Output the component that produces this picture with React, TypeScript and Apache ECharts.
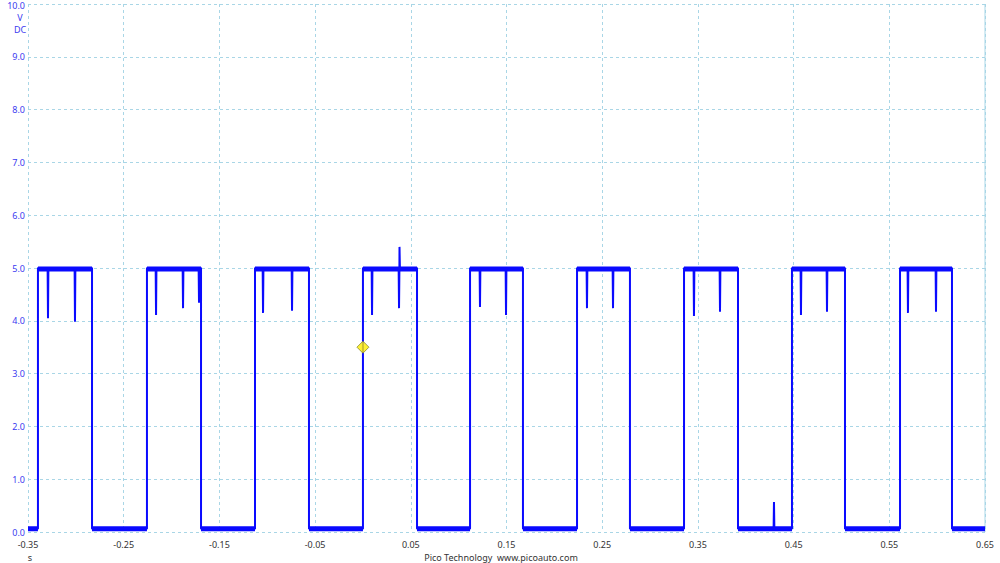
import React, { useEffect, useRef } from "react";
import * as echarts from "echarts";

// Edge times (s)
const riseTimes = [-0.3396, -0.2257, -0.1128, 0.0, 0.1119, 0.2237, 0.3355, 0.4483, 0.5612];
const fallTimes = [-0.2831, -0.1692, -0.0564, 0.0565, 0.1672, 0.279, 0.3919, 0.5037, 0.6155];
const highLevel = 5.0;
const lowLevel = 0.06;
// Glitches on the high plateaus: [time, value]
const highGlitches: [number, number][] = [
  [-0.3291, 4.05], [-0.3009, 3.98],
  [-0.2162, 4.11], [-0.188, 4.24], [-0.1713, 4.34],
  [-0.1044, 4.15], [-0.0741, 4.19],
  [0.0095, 4.11], [0.0377, 4.24], [0.0382, 5.4],
  [0.1223, 4.26], [0.1495, 4.11],
  [0.2341, 4.24], [0.2613, 4.24],
  [0.3459, 4.09], [0.3731, 4.17],
  [0.4577, 4.11], [0.4849, 4.17],
  [0.5695, 4.15], [0.5988, 4.17],
];
// Glitches on the low level
const lowGlitches: [number, number][] = [[0.4295, 0.57]];
const xMin = -0.35;
const xMax = 0.65;
const yMax = 10;
const triggerPoint: [number, number] = [0.0, 3.5];

function buildTrace(): [number, number][] {
  const pts: [number, number][] = [[xMin, lowLevel]];
  const dt = 0.0004;
  riseTimes.forEach((r, i) => {
    const f = fallTimes[i];
    const prevF = i === 0 ? xMin : fallTimes[i - 1];
    lowGlitches
      .filter(([t]) => t > prevF && t < r)
      .forEach(([t, v]) => {
        pts.push([t - dt, lowLevel], [t, v], [t + dt, lowLevel]);
      });
    pts.push([r, lowLevel], [r, highLevel]);
    highGlitches
      .filter(([t]) => t > r && t < f)
      .forEach(([t, v]) => {
        pts.push([t - dt, highLevel], [t, v], [t + dt, highLevel]);
      });
    pts.push([f, highLevel], [f, lowLevel]);
  });
  pts.push([xMax, lowLevel]);
  return pts;
}

function buildBand(): any[] {
  const pts: any[] = [];
  let prev = xMin;
  riseTimes.forEach((r, i) => {
    pts.push([prev, lowLevel], [r, lowLevel], [r, null]);
    pts.push([r, highLevel - 0.02], [fallTimes[i], highLevel - 0.02], [fallTimes[i], null]);
    prev = fallTimes[i];
  });
  pts.push([prev, lowLevel], [xMax, lowLevel]);
  return pts;
}

export default function App() {
  const ref = useRef<HTMLDivElement>(null);
  useEffect(() => {
    if (!ref.current) return;
    const chart = echarts.init(ref.current, null, { renderer: "svg" });
    const gridColor = "#a9d6e6";
    const font = "Noto Sans";
    chart.setOption({
      animation: false,
      backgroundColor: "#ffffff",
      grid: { left: 28, right: 15, top: 4, bottom: 31, containLabel: false },
      xAxis: {
        type: "value",
        min: xMin,
        max: xMax,
        interval: 0.1,
        axisLine: { show: false },
        axisTick: { show: false },
        splitLine: { show: true, lineStyle: { color: gridColor, type: [3, 3], width: 1 } },
        axisLabel: {
          color: "#333333",
          fontFamily: font,
          fontSize: 9,
          margin: 8,
          showMinLabel: true,
          showMaxLabel: true,
          formatter: (v: number) => v.toFixed(2),
        },
      },
      yAxis: {
        type: "value",
        min: 0,
        max: yMax,
        interval: 1,
        axisLine: { show: false },
        axisTick: { show: false },
        splitLine: { show: true, lineStyle: { color: gridColor, type: [3, 3], width: 1 } },
        axisLabel: {
          color: "#3a3af0",
          fontFamily: font,
          fontSize: 9,
          margin: 3,
          showMaxLabel: false,
          formatter: (v: number) => v.toFixed(1),
        },
      },
      graphic: [
        { type: "rect", shape: { x: 985, y: 4, width: 0, height: 528 }, style: { stroke: gridColor, lineDash: [3, 3], lineWidth: 1, fill: "none" } },
        { type: "text", x: 25, y: 1, style: { text: yMax.toFixed(1), fill: "#3a3af0", font: `9px ${font}`, align: "right", verticalAlign: "top" } },
        { type: "text", x: 20, y: 17, style: { text: "V", fill: "#3a3af0", font: `9px ${font}`, align: "center", verticalAlign: "middle" } },
        { type: "text", x: 20, y: 29, style: { text: "DC", fill: "#3a3af0", font: `9px ${font}`, align: "center", verticalAlign: "middle" } },
        { type: "text", x: 30, y: 557, style: { text: "s", fill: "#333333", font: `9px ${font}`, align: "center", verticalAlign: "middle" } },
        { type: "text", x: 501, y: 557, style: { text: "Pico Technology  www.picoauto.com", fill: "#333333", font: `9px ${font}`, align: "center", verticalAlign: "middle" } },
      ],
      series: [
        {
          type: "line",
          data: buildBand(),
          symbol: "none",
          connectNulls: false,
          lineStyle: { color: "#0a0aff", width: 5 },
          silent: true,
          z: 2,
        },
        {
          type: "line",
          data: buildTrace(),
          symbol: "none",
          lineStyle: { color: "#0a0aff", width: 2 },
          silent: true,
          z: 3,
        },
        {
          type: "scatter",
          data: [triggerPoint],
          symbol: "diamond",
          symbolSize: [12, 12],
          itemStyle: { color: "#ffee00", borderColor: "#8a8a30", borderWidth: 1 },
          z: 5,
        },
      ],
    });
    return () => chart.dispose();
  }, []);
  return <div ref={ref} style={{ position: "fixed", left: 0, top: 0, width: 1000, height: 563 }} />;
}
